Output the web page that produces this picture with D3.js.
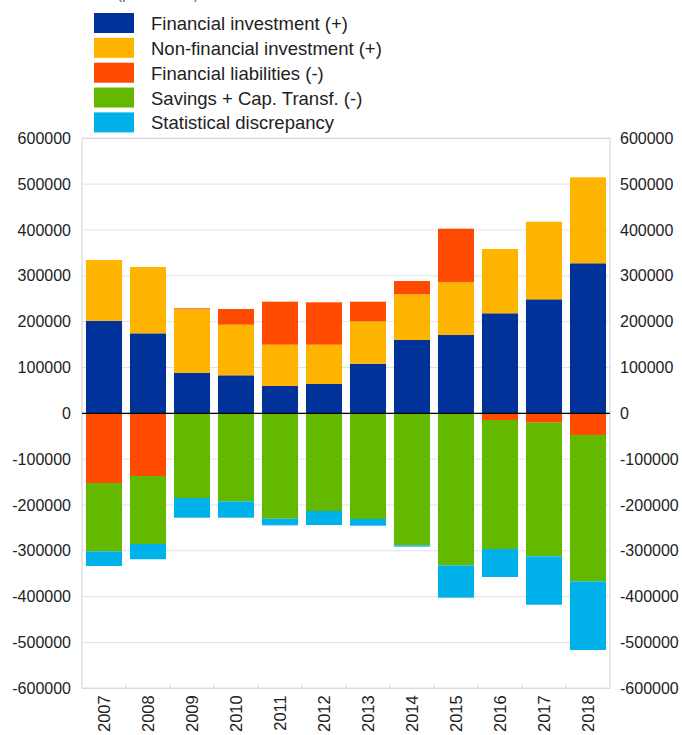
<!DOCTYPE html>
<html>
<head>
<meta charset="utf-8">
<script src="https://cdn.jsdelivr.net/npm/d3@7"></script>
<style>
  html, body { margin: 0; padding: 0; background: #fff; }
  svg { display: block; font-family: Arial, "Liberation Sans", sans-serif; }
</style>
</head>
<body>
<div id="chart"></div>
<script>
// ── Data ────────────────────────────────────────────────────────────────
const years = ["2007", "2008", "2009", "2010", "2011", "2012",
               "2013", "2014", "2015", "2016", "2017", "2018"];

const financialInvestment = [202000, 174500, 88600, 82900, 59600, 63900,
                             108200, 159900, 170800, 218200, 248700, 327300];
const nonFinancialInvestment = [132500, 144700, 138300, 110400, 90100, 85800,
                                92500, 99700, 115000, 140300, 169300, 187600];
const financialLiabilities = [-152100, -136800, 2200, 34300, 93800, 92500,
                              42800, 29100, 117000, -14600, -20500, -47300];
const savingsCapTransf = [-149000, -148400, -184800, -192000, -230000, -213200,
                          -230600, -288000, -331600, -281500, -291500, -319200];
const statDiscrepancy = [-32100, -33300, -42900, -35700, -14400, -30500,
                         -14600, -3000, -70700, -61100, -105600, -149900];

const yTicks = [-600000, -500000, -400000, -300000, -200000, -100000,
                0, 100000, 200000, 300000, 400000, 500000, 600000];

const seriesInfo = [
  { key: "fin", label: "Financial investment (+)", color: "#003299", values: financialInvestment },
  { key: "nonfin", label: "Non-financial investment (+)", color: "#FFB400", values: nonFinancialInvestment },
  { key: "liab", label: "Financial liabilities (-)", color: "#FF4B00", values: financialLiabilities },
  { key: "sav", label: "Savings + Cap. Transf. (-)", color: "#65B800", values: savingsCapTransf },
  { key: "stat", label: "Statistical discrepancy", color: "#00B1EA", values: statDiscrepancy },
];

// ── Rows for stacking ───────────────────────────────────────────────────
const rows = years.map((y, i) => {
  const r = { year: y };
  seriesInfo.forEach((s) => (r[s.key] = s.values[i]));
  return r;
});

// ── Dimensions ──────────────────────────────────────────────────────────
const W = 682, H = 735;
const plot = { left: 82, right: 610, top: 138.3, bottom: 688.3 };

const svg = d3.select("#chart").append("svg")
  .attr("width", W).attr("height", H);

// ── Scales ──────────────────────────────────────────────────────────────
const x = d3.scaleBand()
  .domain(years)
  .range([plot.left, plot.right])
  .paddingInner(0.18)
  .paddingOuter(0.09);

const y = d3.scaleLinear()
  .domain([-600000, 600000])
  .range([plot.bottom, plot.top]);

// ── Subtitle (cut off at the top, as in the source) ─────────────────────
svg.append("text")
  .attr("x", 117).attr("y", -1)
  .attr("font-size", 15)
  .attr("fill", "#2f5fb3")
  .text("(per annum)");

// ── Grid lines ──────────────────────────────────────────────────────────
svg.append("g")
  .selectAll("line")
  .data(yTicks)
  .join("line")
  .attr("x1", plot.left).attr("x2", plot.right)
  .attr("y1", (d) => y(d)).attr("y2", (d) => y(d))
  .attr("stroke", "#e3e3e3")
  .attr("stroke-width", 1);

// frame
svg.append("rect")
  .attr("x", plot.left).attr("y", plot.top)
  .attr("width", plot.right - plot.left)
  .attr("height", plot.bottom - plot.top)
  .attr("fill", "none")
  .attr("stroke", "#d9d9d9")
  .attr("stroke-width", 1.2);

// ── Bars ────────────────────────────────────────────────────────────────
const stack = d3.stack()
  .keys(seriesInfo.map((s) => s.key))
  .offset(d3.stackOffsetDiverging);

const stacked = stack(rows);

svg.append("g")
  .selectAll("g")
  .data(stacked)
  .join("g")
  .attr("fill", (d, i) => seriesInfo[i].color)
  .selectAll("rect")
  .data((d) => d)
  .join("rect")
  .attr("x", (d) => x(d.data.year))
  .attr("width", x.bandwidth())
  .attr("y", (d) => y(Math.max(d[0], d[1])))
  .attr("height", (d) => Math.abs(y(d[0]) - y(d[1])));

// zero line
svg.append("line")
  .attr("x1", plot.left).attr("x2", plot.right)
  .attr("y1", y(0)).attr("y2", y(0))
  .attr("stroke", "#000")
  .attr("stroke-width", 1.3);

// ── Axes ────────────────────────────────────────────────────────────────
const fmt = (d) => String(d); // plain hyphen-minus, as in the source

const leftAxis = svg.append("g")
  .attr("transform", `translate(${plot.left},0)`)
  .call(d3.axisLeft(y).tickValues(yTicks).tickFormat(fmt).tickSize(0).tickPadding(11));

const rightAxis = svg.append("g")
  .attr("transform", `translate(${plot.right},0)`)
  .call(d3.axisRight(y).tickValues(yTicks).tickFormat(fmt).tickSize(0).tickPadding(10));

[leftAxis, rightAxis].forEach((a) => {
  a.select(".domain").remove();
  a.selectAll("text")
    .attr("font-size", 16)
    .attr("fill", "#222")
    .attr("font-family", "Arial, 'Liberation Sans', sans-serif");
});

// x ticks between bands
const step = x.step();
svg.append("g")
  .selectAll("line")
  .data(years.slice(1))
  .join("line")
  .attr("x1", (d) => x(d) - (step - x.bandwidth()) / 2)
  .attr("x2", (d) => x(d) - (step - x.bandwidth()) / 2)
  .attr("y1", plot.bottom - 4).attr("y2", plot.bottom)
  .attr("stroke", "#d9d9d9");

// x labels (rotated)
svg.append("g")
  .selectAll("text")
  .data(years)
  .join("text")
  .attr("transform", (d) => `translate(${x(d) + x.bandwidth() / 2 + 6},${plot.bottom + 7}) rotate(-90)`)
  .attr("text-anchor", "end")
  .attr("font-size", 16.5)
  .attr("fill", "#222")
  .text((d) => d);

// ── Legend ──────────────────────────────────────────────────────────────
const legend = svg.append("g").attr("transform", "translate(94,13)");

seriesInfo.forEach((s, i) => {
  const row = legend.append("g").attr("transform", `translate(0,${i * 24.85})`);
  row.append("rect")
    .attr("width", 40).attr("height", 20)
    .attr("fill", s.color);
  row.append("text")
    .attr("x", 57).attr("y", 17)
    .attr("font-size", 18.5)
    .attr("fill", "#222")
    .text(s.label);
});
</script>
</body>
</html>
